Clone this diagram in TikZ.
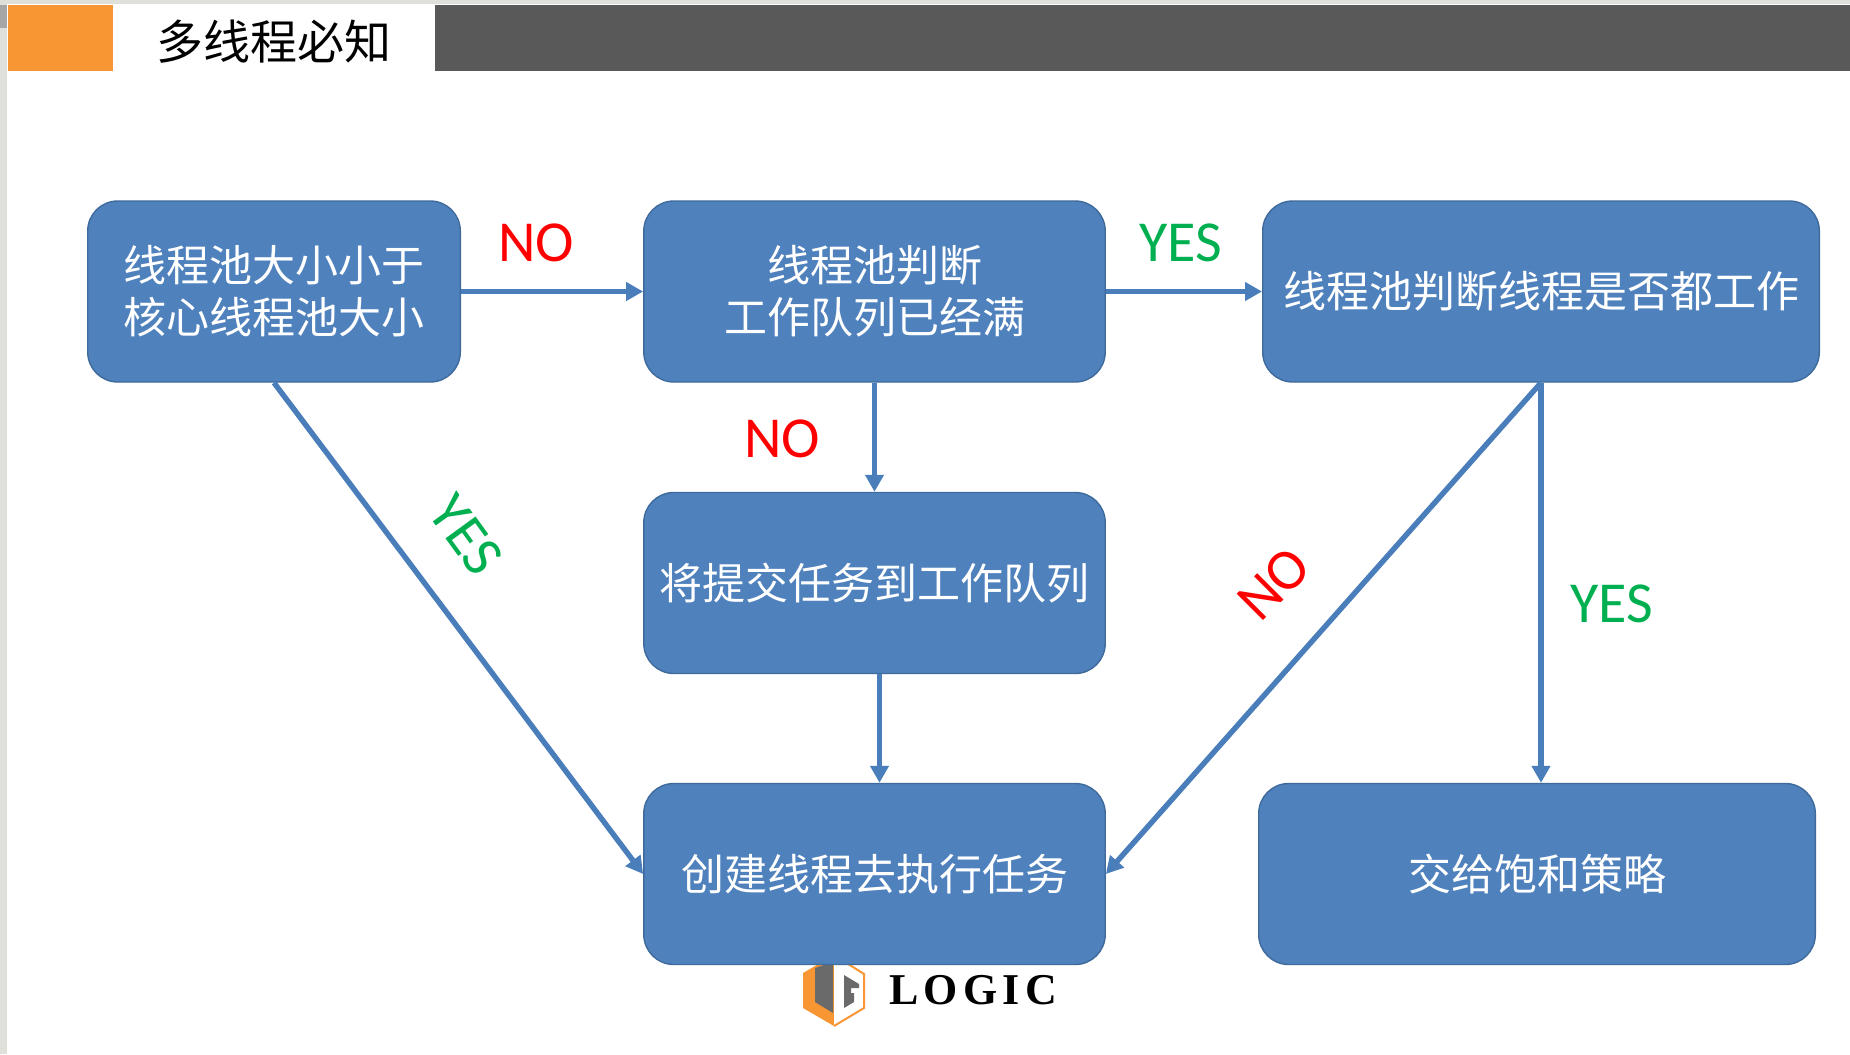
\documentclass[tikz,border=0pt]{standalone}
\usepackage{fontspec}
\setmainfont{Carlito}
\newfontfamily\cjk{Noto Sans CJK SC}
\newfontfamily\logofont{Liberation Serif}
\usetikzlibrary{arrows.meta,calc}
\definecolor{boxfill}{HTML}{4F81BD}
\definecolor{boxline}{HTML}{3F6A9C}
\definecolor{arrowc}{HTML}{4A7EBB}
\definecolor{orangec}{HTML}{F79633}
\definecolor{darkbar}{HTML}{595959}
\definecolor{greenc}{HTML}{00B050}
\definecolor{edgegrey}{HTML}{E0E0DA}
\tikzset{
  flowbox/.style={draw=boxline,line width=0.7pt,fill=boxfill,rounded corners=15pt,inner sep=0pt,
    align=center,text=white,font=\cjk\fontsize{21.5}{26}\selectfont},
  link/.style={draw=arrowc,line width=2.7pt,-{Triangle[length=8.5pt,width=9pt]}},
  nolabel/.style={text=red,font=\fontsize{29}{32}\selectfont,inner sep=0pt},
  yeslabel/.style={text=greenc,font=\fontsize{29}{32}\selectfont,inner sep=0pt}
}
\begin{document}
\begin{tikzpicture}[x=0.5pt,y=-0.5pt]
\useasboundingbox (0,0) rectangle (1850,1054);
\fill[white] (0,0) rectangle (1850,1054);
% window edges
\fill[edgegrey] (0,0) rectangle (1850,4);
\fill[edgegrey] (0,0) rectangle (7,1054);
\fill[gray!70] (0,5) rectangle (7,28);
% header
\fill[orangec] (8,5) rectangle (113,71);
\fill[darkbar] (435,5) rectangle (1850,71);
\node[inner sep=0pt,font=\cjk\fontsize{23.5}{28}\selectfont] (title) at (274,41.5) {多线程必知};
% logo
\fill[orangec] (803,973) -- (834,955) -- (834,1026) -- (803,1008) -- cycle;
\draw[orangec,line width=1pt,fill=white] (834,955) -- (864,974) -- (864,1008) -- (834,1026);
\fill[darkbar!90] (815,968) -- (833,962) -- (833,1013) -- (815,1002) -- cycle;
\fill[darkbar!90] (844,975) -- (859,984) -- (859,988) -- (851,988) -- (851,993) -- (854,993) -- (854,1002) -- (844,1008) -- cycle;
\node[inner sep=0pt,anchor=west,text=black,font=\logofont\bfseries\fontsize{22}{26}\selectfont,
  ] (logo) at (889,990) {L\kern2.6pt O\kern2.6pt G\kern2.6pt I\kern2.6pt C};
% boxes
\node[flowbox,minimum width=186.3pt,minimum height=90.5pt] (a) at (274,291.5) {线程池大小小于\\核心线程池大小};
\node[flowbox,minimum width=230.7pt,minimum height=90.5pt] (b) at (874.5,291.5) {线程池判断\\工作队列已经满};
\node[flowbox,minimum width=278.3pt,minimum height=90.5pt] (c) at (1541,291.5) {线程池判断线程是否都工作};
\node[flowbox,minimum width=230.7pt,minimum height=90.5pt] (d) at (874.5,583) {将提交任务到工作队列};
\node[flowbox,minimum width=230.7pt,minimum height=90.5pt] (e) at (874.5,874) {创建线程去执行任务};
\node[flowbox,minimum width=278.3pt,minimum height=90.5pt] (f) at (1537,874) {交给饱和策略};
% connectors
\draw[link] (a.east) -- (b.west);
\draw[link] (b.east) -- (c.west);
\draw[link] (b.south) -- (d.north);
\draw[link] ([xshift=2.5pt]d.south) -- ([xshift=2.5pt]e.north);
\draw[link] (a.south) -- (e.west);
\draw[link] (c.south) -- (e.east);
\draw[link] (c.south) -- (c.south |- f.north);
% labels
\node[nolabel] (n1) at (536,243) {NO};
\node[yeslabel] (y1) at (1181,243) {YES};
\node[nolabel] (n2) at (782,439) {NO};
\node[yeslabel,rotate=-54] (y2) at (466,535) {YES};
\node[nolabel,rotate=45] (n3) at (1274,584) {NO};
\node[yeslabel] (y3) at (1612,604) {YES};
\end{tikzpicture}
\end{document}
